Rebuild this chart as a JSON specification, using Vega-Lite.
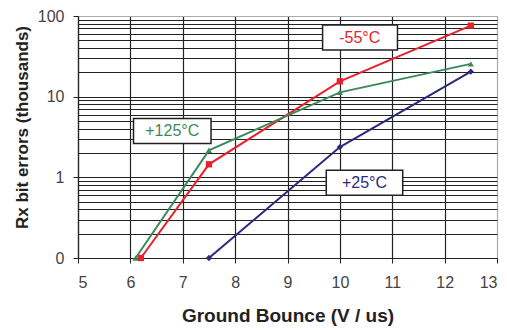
{
  "$schema": "https://vega.github.io/schema/vega-lite/v6.json",
  "width": 419,
  "height": 242,
  "autosize": "none",
  "padding": {"left": 78, "top": 16, "right": 10, "bottom": 72},
  "background": "white",
  "config": {
    "view": {"stroke": null},
    "font": "Liberation Sans",
    "axis": {"labelFont": "Liberation Sans", "titleFont": "Liberation Sans"}
  },
  "datasets": {
    "series": [
      {"x": 6.2, "y": 0.1, "series": "-55°C"},
      {"x": 7.5, "y": 1.45, "series": "-55°C"},
      {"x": 10, "y": 15.5, "series": "-55°C"},
      {"x": 12.5, "y": 76, "series": "-55°C"},
      {"x": 6.1, "y": 0.1, "series": "+125°C"},
      {"x": 7.5, "y": 2.16, "series": "+125°C"},
      {"x": 10, "y": 11.3, "series": "+125°C"},
      {"x": 12.5, "y": 25.5, "series": "+125°C"},
      {"x": 7.5, "y": 0.1, "series": "+25°C"},
      {"x": 10, "y": 2.37, "series": "+25°C"},
      {"x": 12.5, "y": 20.4, "series": "+25°C"}
    ],
    "notes": [
      {"label": "-55°C", "series": "-55°C", "x1": 9.67, "x2": 11.1, "y1": 37.8, "y2": 77.3, "tx": 10.38, "ty": 54},
      {"label": "+125°C", "series": "+125°C", "x1": 6.06, "x2": 7.54, "y1": 2.63, "y2": 5.38, "tx": 6.8, "ty": 3.77},
      {"label": "+25°C", "series": "+25°C", "x1": 9.74, "x2": 11.2, "y1": 0.601, "y2": 1.228, "tx": 10.47, "ty": 0.86}
    ]
  },
  "layer": [
    {
      "data": {"name": "series"},
      "mark": {"type": "line", "strokeWidth": 2, "point": {"filled": true, "size": 40, "opacity": 1}},
      "encoding": {
        "x": {
          "field": "x", "type": "quantitative",
          "scale": {"domain": [5, 13], "nice": false, "zero": false},
          "axis": {
            "values": [5, 6, 7, 8, 9, 10, 11, 12, 13],
            "title": "Ground Bounce (V / us)",
            "titleFontSize": 19, "titleFontWeight": "bold", "titleColor": "#222",
            "titlePadding": 16,
            "labelFontSize": 16, "labelColor": "#444", "labelPadding": 11,
            "tickSize": 5, "tickColor": "#222", "domainColor": "#222", "domainWidth": 1.2,
            "grid": true,
            "gridColor": {"condition": {"test": "datum.value == 13", "value": "#aaaaaa"}, "value": "#222222"},
            "gridWidth": 1.2, "gridOpacity": 1
          }
        },
        "y": {
          "field": "y", "type": "quantitative",
          "scale": {"type": "log", "domain": [0.1, 100], "nice": false},
          "axis": {
            "values": [0.1, 0.2, 0.3, 0.4, 0.5, 0.6, 0.7, 0.8, 0.9, 1, 2, 3, 4, 5, 6, 7, 8, 9, 10, 20, 30, 40, 50, 60, 70, 80, 90, 100],
            "labelExpr": "(datum.value == 0.1 || datum.value == 1 || datum.value == 10 || datum.value == 100) ? format(datum.value, 'd') : ''",
            "labelOverlap": false,
            "title": "Rx bit errors (thousands)",
            "titleFontSize": 17, "titleFontWeight": "bold", "titleColor": "#222",
            "titlePadding": 6, "titleY": 111,
            "labelFontSize": 16, "labelColor": "#444", "labelPadding": 9,
            "tickSize": 5, "tickColor": "#222",
            "tickOpacity": {"condition": {"test": "datum.value == 0.1 || datum.value == 1 || datum.value == 10 || datum.value == 100", "value": 1}, "value": 0},
            "domainColor": "#222", "domainWidth": 1.2,
            "grid": true,
            "gridColor": {"condition": {"test": "datum.value == 100", "value": "#aaaaaa"}, "value": "#222222"},
            "gridWidth": 1.2, "gridOpacity": 1
          }
        },
        "color": {
          "field": "series", "type": "nominal",
          "scale": {"domain": ["-55°C", "+125°C", "+25°C"], "range": ["#e8212b", "#3c8a5c", "#2a2a7c"]},
          "legend": null
        },
        "shape": {
          "field": "series", "type": "nominal",
          "scale": {"domain": ["-55°C", "+125°C", "+25°C"], "range": ["square", "triangle-up", "diamond"]},
          "legend": null
        }
      }
    },
    {
      "data": {"name": "notes"},
      "mark": {"type": "rect", "fill": "white", "stroke": "#222", "strokeWidth": 1.5},
      "encoding": {
        "x": {"field": "x1", "type": "quantitative"},
        "x2": {"field": "x2"},
        "y": {"field": "y1", "type": "quantitative"},
        "y2": {"field": "y2"}
      }
    },
    {
      "data": {"name": "notes"},
      "mark": {"type": "text", "fontSize": 16, "align": "center", "baseline": "middle"},
      "encoding": {
        "x": {"field": "tx", "type": "quantitative"},
        "y": {"field": "ty", "type": "quantitative"},
        "text": {"field": "label"},
        "color": {
          "field": "series", "type": "nominal",
          "scale": {"domain": ["-55°C", "+125°C", "+25°C"], "range": ["#e8212b", "#3c8a5c", "#2a2a7c"]},
          "legend": null
        }
      }
    }
  ]
}
